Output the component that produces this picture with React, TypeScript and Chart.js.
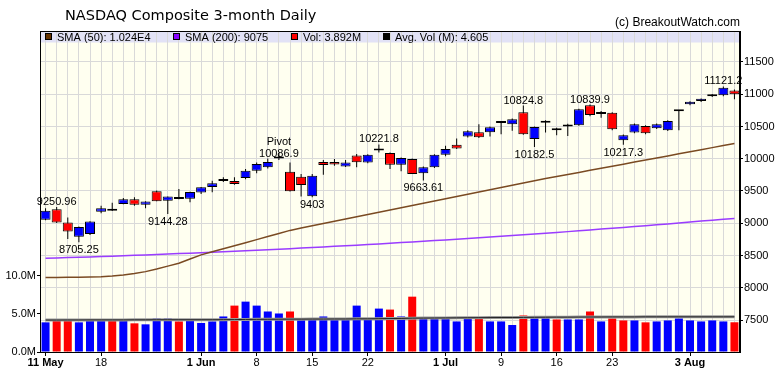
import React, { useEffect, useRef } from 'react';
import { Chart, registerables } from 'chart.js';

Chart.register(...registerables);

const FONT = "'Liberation Sans', Arial, sans-serif";

// ---- data ----
const DATES = ['11 May','12 May','13 May','14 May','15 May','18 May','19 May','20 May','21 May','22 May','26 May','27 May','28 May','29 May','1 Jun','2 Jun','3 Jun','4 Jun','5 Jun','8 Jun','9 Jun','10 Jun','11 Jun','12 Jun','15 Jun','16 Jun','17 Jun','18 Jun','19 Jun','22 Jun','23 Jun','24 Jun','25 Jun','26 Jun','29 Jun','30 Jun','1 Jul','2 Jul','6 Jul','7 Jul','8 Jul','9 Jul','10 Jul','13 Jul','14 Jul','15 Jul','16 Jul','17 Jul','20 Jul','21 Jul','22 Jul','23 Jul','24 Jul','27 Jul','28 Jul','29 Jul','30 Jul','31 Jul','3 Aug','4 Aug','5 Aug','6 Aug','7 Aug'];

const OPEN = [9054,9217,9012,8791,8832,9177,9217,9300,9372,9285,9495,9347,9390,9378,9475,9563,9655,9655,9702,9815,9866,10005,9799,9722,9418,9949,9949,9881,10051,9943,10126,10087,9907,9995,9773,9866,10061,10216,10344,10411,10411,10560,10535,10720,10304,10565,10442,10500,10519,10829,10695,10714,10288,10406,10509,10473,10442,10735,10843,10895,10967,10983,11059];
const HIGH = [9232,9250.96,9090,8950,9030,9270,9316,9393,9403,9340,9506,9413,9530,9490,9560,9660,9711,9711,9840,9943,10004,10086.9,9943,9764,9764,9979,9995,9980,10072,10070,10221.8,10095,10020,10005,9880,10070,10200,10313,10440,10535,10500,10586,10625,10824.8,10500,10597,10480,10544,10775,10839.9,10740,10720,10375,10545,10520,10545,10595,10747,10890,10935,11005,11121.2,11075];
const LOW = [9045,9005,8754,8705.25,8816,9156,9190,9295,9270,9233,9341,9144.28,9370,9325,9455,9480,9640,9598,9680,9773,9850,9980,9492,9413,9403,9753,9890,9870,9866,9930,10097,9841,9804,9764,9663.61,9855,10040,10150,10330,10320,10344,10380,10432,10370,10182.5,10406,10365,10354,10510,10660,10637,10440,10217.3,10395,10380,10460,10430,10440,10830,10880,10955,10970,10921];
const CLOSE = [9193,9012,8873,8940,9028,9233,9193,9372,9285,9336,9341,9413,9375,9486,9557,9619,9686,9609,9815,9918,9949,10020,9495,9594,9737,9903,9910,9943,9946,10061,10131,9907,10010,9764,9866,10061,10149,10159,10427,10334,10489,10555,10612,10381,10493,10558,10473,10506,10766,10679,10702,10458,10365,10535,10396,10535,10586,10745,10884,10930,10998,11100,10998];

const VOLUME = [3.88,4.26,4.26,3.88,4.26,4.26,4.13,4.26,3.75,3.62,4.39,4.39,4.0,4.26,3.8,4.0,4.65,6.07,6.59,6.07,5.3,5.04,5.3,4.39,4.39,4.65,4.26,4.26,6.07,4.39,5.68,5.55,4.65,7.24,4.35,4.35,4.52,4.0,4.52,4.35,4.0,4.0,3.53,4.78,4.43,4.69,4.26,4.26,4.26,5.3,4.0,4.39,4.13,4.13,3.88,4.0,4.13,4.39,4.13,4.0,4.13,4.0,3.89];
const AVG_VOL = [4.18,4.18,4.19,4.19,4.2,4.2,4.2,4.2,4.21,4.21,4.22,4.22,4.22,4.22,4.22,4.22,4.23,4.24,4.26,4.27,4.28,4.29,4.3,4.3,4.31,4.31,4.32,4.32,4.34,4.34,4.36,4.38,4.39,4.43,4.44,4.45,4.46,4.47,4.48,4.49,4.5,4.51,4.51,4.53,4.54,4.55,4.56,4.56,4.57,4.58,4.58,4.59,4.59,4.59,4.6,4.6,4.6,4.6,4.6,4.6,4.6,4.6,4.605];

const SMA50 = [8160,8160,8161,8163,8166,8172,8182,8198,8220,8250,8290,8335,8380,8445,8510,8557,8604,8652,8699,8746,8794,8841,8889,8925,8960,8995,9030,9065,9100,9135,9170,9205,9240,9275,9310,9345,9380,9415,9450,9485,9520,9555,9590,9625,9660,9692,9724,9756,9788,9820,9852,9884,9916,9948,9980,10012,10044,10076,10108,10140,10172,10204,10236];
const SMA200 = [8457,8462,8467,8473,8478,8484,8490,8496,8502,8509,8515,8522,8529,8536,8543,8550,8558,8565,8573,8581,8589,8597,8606,8615,8623,8632,8642,8651,8660,8670,8680,8690,8700,8710,8720,8731,8742,8752,8763,8775,8786,8797,8809,8821,8833,8845,8858,8870,8883,8896,8909,8922,8935,8949,8962,8976,8990,9005,9019,9034,9048,9063,9075];

const PRICE_TICKS = [7500, 8000, 8500, 9000, 9500, 10000, 10500, 11000, 11500];
const VOLUME_TICKS = [0, 5, 10];

const TICK_INDEX = [0,5,14,19,24,29,36,41,46,51,58];
const TICK_TEXT = ['11 May','18','1 Jun','8','15','22','1 Jul','9','16','23','3 Aug'];
const TICK_BOLD = [0,14,36,58];

const ANN_INDEX = [1,3,11,21,24,30,34,43,44,49,52,61];
const ANN_KIND = ['high','low','low','pivot','low','high','low','high','low','high','low','high'];
const ANN_TEXT = ['9250.96','8705.25','9144.28','10086.9','9403','10221.8','9663.61','10824.8','10182.5','10839.9','10217.3','11121.2'];

const LEGEND_TEXT = ['SMA (50): 1.024E4','SMA (200): 9075','Vol: 3.892M','Avg. Vol (M): 4.605'];
const LEGEND_COLOR = ['#663300','#8800FF','#FF0000','#000000'];

const TITLE = 'NASDAQ Composite 3-month Daily';
const COPYRIGHT = '(c) BreakoutWatch.com';

// ---- styles ----
const UP = '#0000FF';
const DOWN = '#FF0000';
const LEGEND_X = [45, 173, 291, 383];

const decorPlugin = {
  id: 'decor',
  beforeDraw(chart: any) {
    const { ctx, chartArea: a } = chart;
    ctx.save();
    ctx.fillStyle = '#FFFFFF';
    ctx.fillRect(0, 0, chart.width, chart.height);
    ctx.fillStyle = '#FFFFF0';
    ctx.fillRect(a.left, a.top, a.right - a.left, a.bottom - a.top);
    ctx.fillStyle = '#E2E2F6';
    ctx.fillRect(a.left, a.top, a.right - a.left, 11.5);
    ctx.restore();
  },
  afterDraw(chart: any) {
    const { ctx, chartArea: a } = chart;
    const xs = chart.scales.x;
    const yp = chart.scales.yp;
    ctx.save();
    // frame
    ctx.strokeStyle = '#000';
    ctx.lineWidth = 1;
    ctx.strokeRect(Math.round(a.left) + 0.5, Math.round(a.top) + 0.5, Math.round(a.right - a.left) - 1, Math.round(a.bottom - a.top));
    // title
    ctx.fillStyle = '#000';
    ctx.textBaseline = 'alphabetic';
    ctx.textAlign = 'left';
    ctx.font = "14.5px 'DejaVu Sans', sans-serif";
    ctx.fillText(TITLE, 65, 19.5);
    ctx.font = `12px ${FONT}`;
    ctx.textAlign = 'right';
    ctx.fillText(COPYRIGHT, 740, 26);
    // legend
    ctx.font = `11px ${FONT}`;
    ctx.textAlign = 'left';
    LEGEND_TEXT.forEach((t, i) => {
      const x = LEGEND_X[i];
      ctx.fillStyle = LEGEND_COLOR[i];
      ctx.fillRect(x, a.top + 2, 6, 6);
      ctx.strokeStyle = '#000';
      ctx.strokeRect(x + 0.5, a.top + 2.5, 6, 6);
      ctx.fillStyle = '#000';
      ctx.fillText(t, x + 12, a.top + 9.5);
    });
    // annotations
    ctx.font = `11px ${FONT}`;
    ctx.textAlign = 'center';
    ANN_INDEX.forEach((idx, k) => {
      const x = xs.getPixelForValue(idx);
      const kind = ANN_KIND[k];
      if (kind === 'high') {
        ctx.fillText(ANN_TEXT[k], x, yp.getPixelForValue(HIGH[idx]) - 2);
      } else if (kind === 'low') {
        ctx.fillText(ANN_TEXT[k], x, yp.getPixelForValue(LOW[idx]) + 11);
      } else {
        const y = yp.getPixelForValue(HIGH[idx]);
        ctx.fillText(ANN_TEXT[k], x, y + 4);
        ctx.fillText('Pivot', x, y - 8);
      }
    });
    ctx.restore();
  },
};

export default function App() {
  const ref = useRef<HTMLCanvasElement>(null);
  useEffect(() => {
    const volColors = CLOSE.map((c, i) => (i === 0 || c >= CLOSE[i - 1] ? UP : DOWN));
    const bodyColors = CLOSE.map((c, i) => (c >= OPEN[i] ? UP : DOWN));
    const chart = new Chart(ref.current as HTMLCanvasElement, {
      type: 'bar',
      data: {
        labels: DATES,
        datasets: [
          {
            type: 'bar',
            label: 'Body',
            data: OPEN.map((o, i) => [Math.min(o, CLOSE[i]), Math.max(o, CLOSE[i])]) as any,
            yAxisID: 'yp',
            backgroundColor: bodyColors,
            borderColor: '#000',
            borderWidth: 1,
            borderSkipped: false,
            barThickness: 10,
            minBarLength: 2,
            grouped: false,
            inflateAmount: 0,
            order: 1,
          } as any,
          {
            type: 'bar',
            label: 'Wick',
            data: LOW.map((l, i) => [l, HIGH[i]]) as any,
            yAxisID: 'yp',
            backgroundColor: '#000',
            borderWidth: 0,
            barThickness: 1,
            grouped: false,
            inflateAmount: 0,
            order: 2,
          } as any,
          {
            type: 'line',
            label: 'SMA (50)',
            data: SMA50,
            yAxisID: 'yp',
            borderColor: '#7A4A22',
            borderWidth: 1.5,
            pointRadius: 0,
            order: 3,
          } as any,
          {
            type: 'line',
            label: 'SMA (200)',
            data: SMA200,
            yAxisID: 'yp',
            borderColor: '#9A3CFF',
            borderWidth: 1.5,
            pointRadius: 0,
            order: 3,
          } as any,
          {
            type: 'line',
            label: 'Avg Vol shade',
            data: AVG_VOL,
            yAxisID: 'yv',
            borderColor: '#9A9A9A',
            borderWidth: 3,
            pointRadius: 0,
            order: 4,
          } as any,
          {
            type: 'line',
            label: 'Avg Vol',
            data: AVG_VOL,
            yAxisID: 'yv',
            borderColor: '#222222',
            borderWidth: 1,
            pointRadius: 0,
            order: 3.5,
          } as any,
          {
            type: 'bar',
            label: 'Vol',
            data: VOLUME,
            yAxisID: 'yv',
            backgroundColor: volColors,
            borderWidth: 0,
            barThickness: 8,
            grouped: false,
            inflateAmount: 0,
            order: 5,
          } as any,
        ],
      },
      options: {
        responsive: false,
        animation: false,
        devicePixelRatio: 1,
        events: [],
        layout: { padding: { top: 31, left: 0, right: 0, bottom: 0 } },
        plugins: { legend: { display: false }, tooltip: { enabled: false }, title: { display: false } },
        scales: {
          x: {
            type: 'category',
            offset: true,
            grid: {
              offset: false,
              color: '#D9D9D9',
              lineWidth: 1,
              tickLength: 4,
              tickColor: (c: any) => (TICK_INDEX.includes(c.index) ? '#000' : 'rgba(0,0,0,0)'),
            },
            border: { color: '#000', width: 1 },
            ticks: {
              autoSkip: false,
              maxRotation: 0,
              minRotation: 0,
              padding: 0,
              color: '#000',
              font: (c: any) => ({ family: FONT, size: 11, weight: TICK_BOLD.includes(c.index) ? 'bold' : 'normal' }),
              callback: (_v: any, i: number) => {
                const k = TICK_INDEX.indexOf(i);
                return k >= 0 ? TICK_TEXT[k] : '';
              },
            },
            afterFit: (s: any) => { s.height = 25; },
          },
          yv: {
            type: 'linear',
            position: 'left',
            min: 0,
            max: 42,
            grid: { drawOnChartArea: false, tickLength: 3, tickColor: '#000' },
            border: { color: '#000', width: 1 },
            ticks: {
              padding: 1,
              color: '#000',
              font: { family: FONT, size: 11 },
              callback: (v: any) => Number(v).toFixed(1) + 'M',
            },
            afterBuildTicks: (s: any) => { s.ticks = VOLUME_TICKS.map((v) => ({ value: v })); },
            afterFit: (s: any) => { s.width = 40; },
          },
          yp: {
            type: 'linear',
            position: 'right',
            min: 7004,
            max: 11980,
            grid: { color: '#D9D9D9', tickLength: 3, tickColor: '#000' },
            border: { color: '#000', width: 1 },
            ticks: {
              padding: 1,
              color: '#000',
              font: { family: FONT, size: 11 },
              callback: (v: any) => String(v),
            },
            afterBuildTicks: (s: any) => { s.ticks = PRICE_TICKS.map((v) => ({ value: v })); },
            afterFit: (s: any) => { s.width = 40; },
          },
        },
      } as any,
      plugins: [decorPlugin],
    });
    return () => chart.destroy();
  }, []);
  return (
    <div style={{ position: 'absolute', left: 0, top: 0, width: 780, height: 377, background: '#fff' }}>
      <canvas ref={ref} width={780} height={377} style={{ display: 'block', width: 780, height: 377 }} />
    </div>
  );
}
